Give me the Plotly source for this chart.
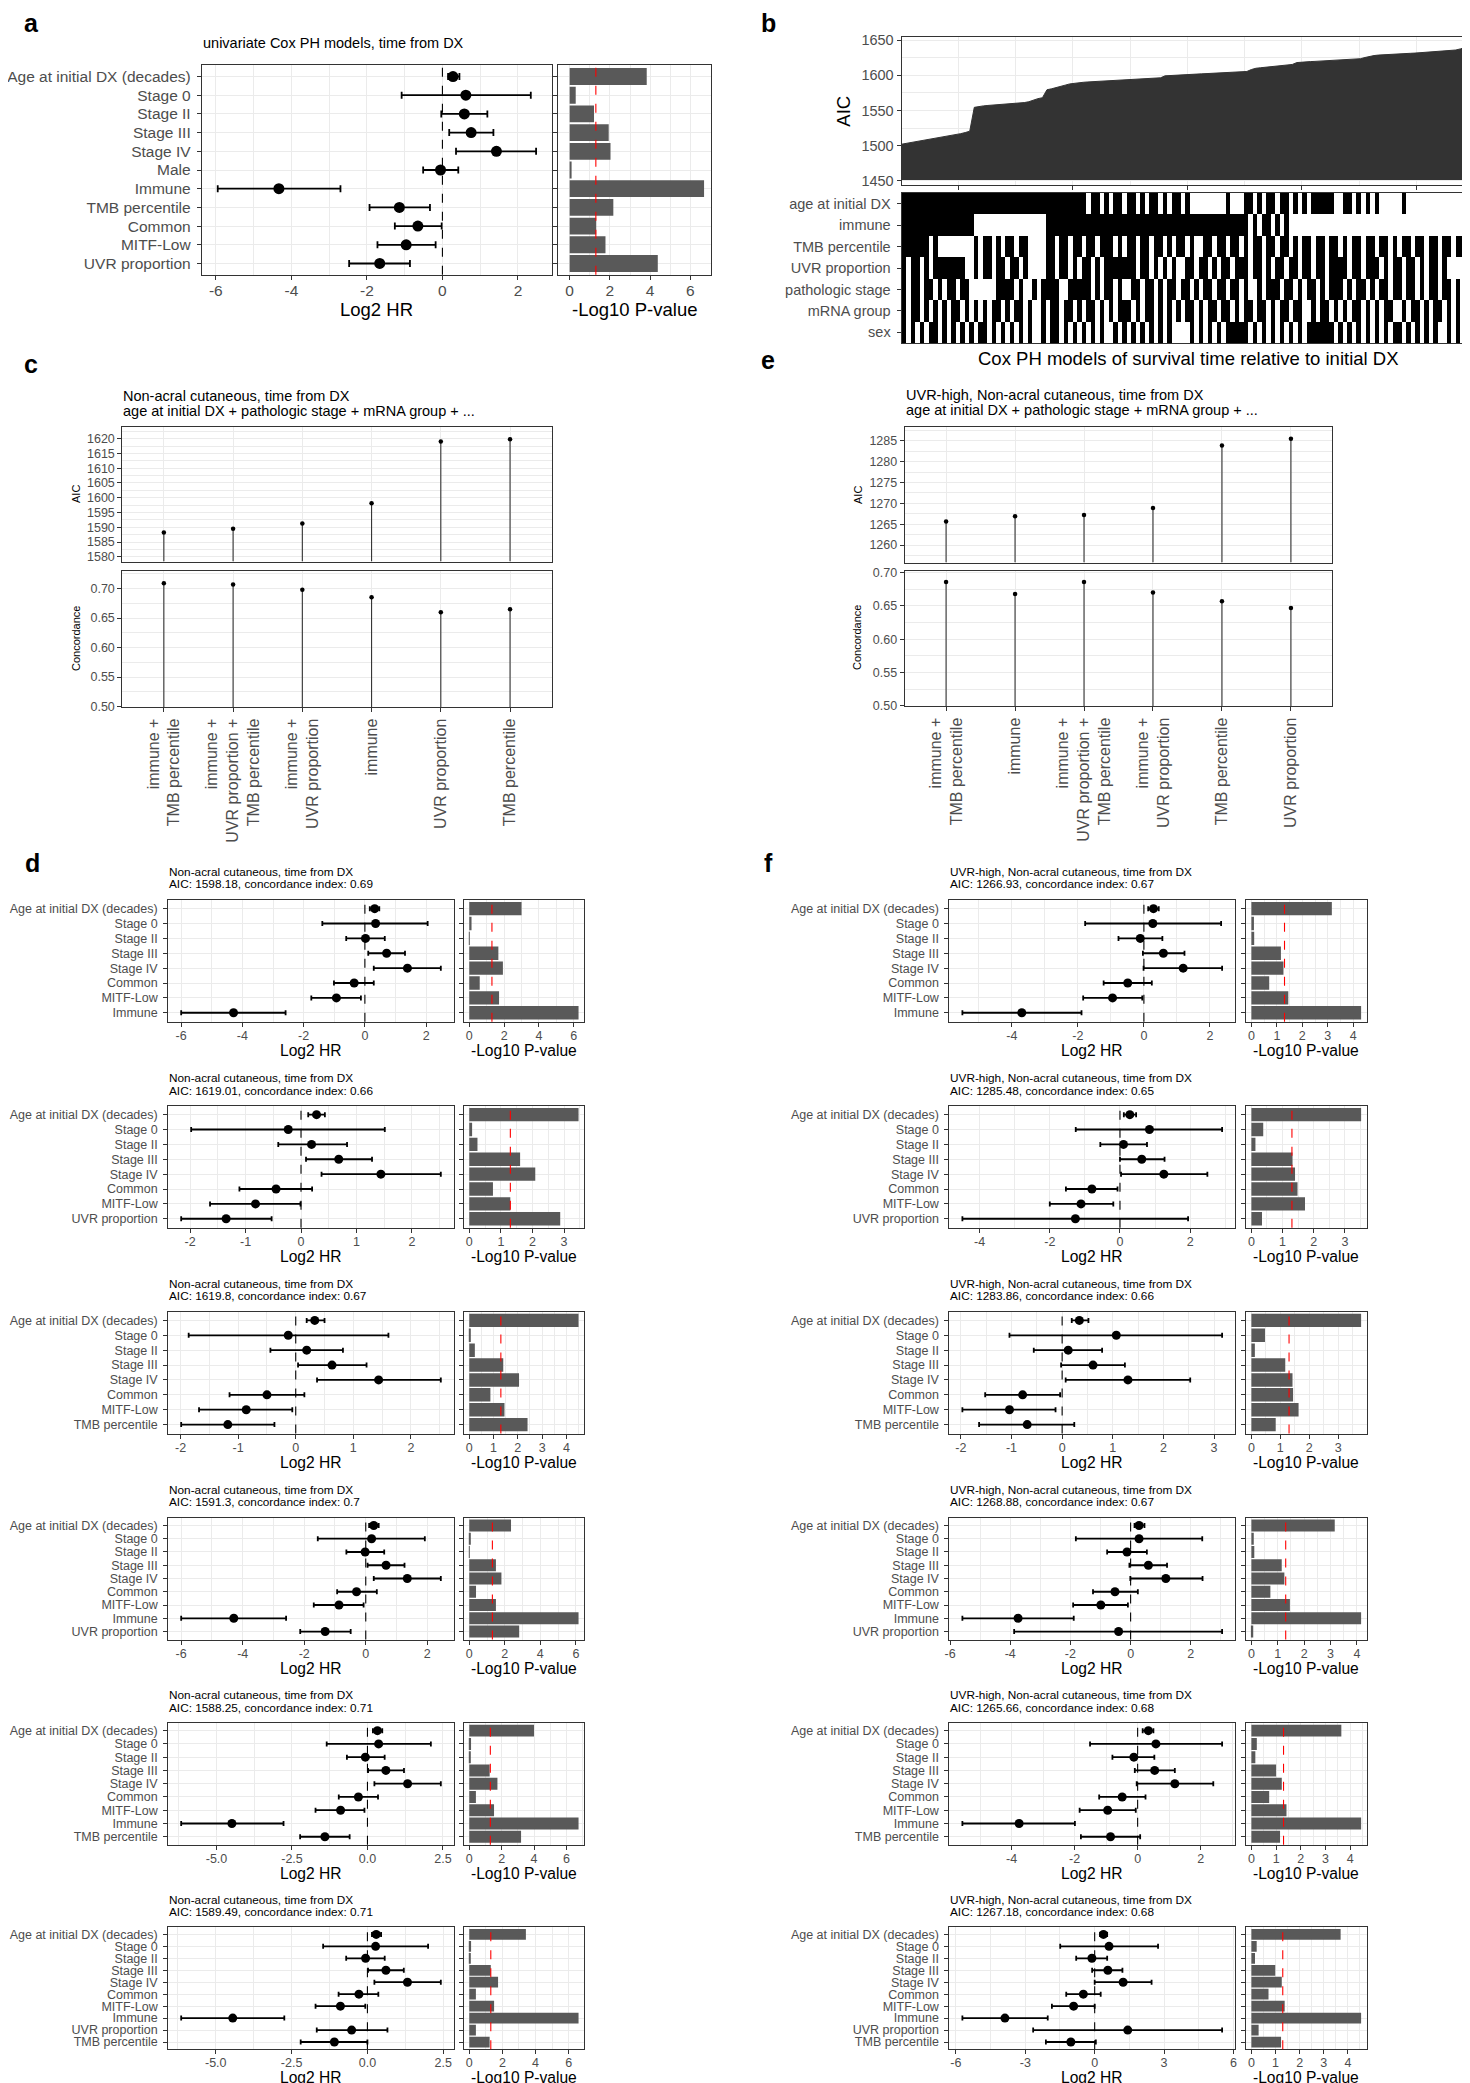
import numpy as np
import plotly.graph_objects as go

W, H = 1470, 2083
FONT = "Liberation Sans, Arial, Helvetica, sans-serif"
GRID = "#EBEBEB"
FRAME = "#333333"
TICKTXT = "#4D4D4D"
BARFILL = "#595959"
P_CUT = -np.log10(0.05)

# ---------------- a: univariate Cox models ----------------
A_LABELS = ["Age at initial DX (decades)", "Stage 0", "Stage II", "Stage III", "Stage IV", "Male",
            "Immune", "TMB percentile", "Common", "MITF-Low", "UVR proportion"]
A_HR = [0.28, 0.62, 0.58, 0.76, 1.43, -0.05, -4.33, -1.14, -0.65, -0.96, -1.66]
A_LO = [0.15, -1.08, -0.03, 0.18, 0.36, -0.51, -5.95, -1.93, -1.26, -1.72, -2.47]
A_HI = [0.45, 2.34, 1.19, 1.35, 2.48, 0.42, -2.70, -0.33, -0.02, -0.18, -0.86]
A_P = [3.83, 0.30, 1.21, 1.94, 2.03, 0.05, 6.68, 2.17, 1.32, 1.78, 4.38]

# ---------------- b: all models sorted by AIC ----------------
AIC_SORTED = [
    1502.0, 1503.1, 1504.2, 1505.3, 1506.4, 1507.5, 1508.6, 1509.7, 1510.8, 1511.9, 1513.0, 1514.3, 1515.6, 1517.0, 1518.6, 1520.5,
    1554.5, 1555.8, 1556.6, 1557.2, 1557.7, 1558.1, 1558.5, 1558.9, 1559.3, 1559.8, 1560.4, 1561.3, 1562.5, 1564.8, 1566.9, 1568.2,
    1579.6, 1580.9, 1582.3, 1584.0, 1586.1, 1587.9, 1589.0,
    1589.6, 1590.2, 1590.7, 1591.1, 1591.5, 1591.9, 1592.2, 1592.5, 1592.8, 1593.1, 1593.4, 1593.7, 1594.0, 1594.3, 1594.6, 1594.9, 1595.3, 1595.8, 1596.6,
    1599.4, 1599.9, 1600.3, 1600.7, 1601.0, 1601.3, 1601.6, 1601.9, 1602.2, 1602.5, 1602.8, 1603.1, 1603.4, 1603.7, 1604.0, 1604.3, 1604.6, 1605.0, 1605.6,
    1608.4, 1610.2, 1610.9, 1611.5, 1612.0, 1612.5, 1613.0, 1613.5, 1614.2, 1615.6,
    1618.3, 1619.0, 1619.4, 1619.7, 1620.0, 1620.3, 1620.6, 1620.9, 1621.2, 1621.5, 1621.8, 1622.1, 1622.5, 1623.0, 1623.8,
    1625.5, 1627.2, 1628.3, 1629.0, 1629.5, 1629.9, 1630.3, 1630.6, 1630.9, 1631.2, 1631.5, 1631.8, 1632.2, 1632.6,
    1633.0, 1633.4, 1633.7, 1634.0, 1634.4, 1635.0, 1636.2, 1637.8, 1639.5, 1641.3, 1643.5,
]
AIC_FLOOR = 1451

HEAT_LABELS = ["age at initial DX", "immune", "TMB percentile", "UVR proportion",
               "pathologic stage", "mRNA group", "sex"]
HM_AGE = ("1111111111" "1111111111" "1111111111" "1111111111" "1011010110" "1101011010" "1101000000"
          "0010001101" "0110110101" "0111110011" "0101010000" "0100000000" "0000000")
HM_IMMUNE = ("1111111111" "1111110000" "0000000000" "0011111111" "1111111111" "1111111111" "1111111111"
             "1111111010" "1101010000" "0000000000" "0000000000" "0000000000" "0000000")
HM_TMB = ("1111110100" "0000001011" "0101101100" "0011011011" "0110111010" "1101101101" "0110100110"
          "1101101011" "0110110101" "1011011010" "1101101101" "0110110110" "1101110")
HM_UVR = ("1011010111" "1111001011" "0110110100" "0011011010" "1101011111" "1101101010" "1001101101"
          "0110111011" "0101101101" "1011011110" "1101110101" "1011010110" "1000000")
HM_STAGE = ("1011011010" "1101100000" "0111101001" "0111100111" "1101011010" "0110110101" "1011010110"
            "1101101001" "0111011010" "1101011101" "0110101101" "1011010110" "1101011")
HM_MRNA = ("1011010101" "0110101010" "1101011010" "0101101101" "0110101011" "1010110101" "0101101011"
           "0110101101" "1010110110" "0101101010" "1101010110" "0101101011" "0101011")
HM_SEX = ("1010101101" "0101010110" "1010101010" "0101101010" "1010100101" "0101010101" "0000101010"
          "1011111010" "1010101010" "1111110101" "0101010101" "1010101010" "0101010")

# ---------------- c / e: model comparison ----------------
C_MODELS = ["immune +\nTMB percentile", "immune +\nUVR proportion +\nTMB percentile", "immune +\nUVR proportion",
            "immune", "UVR proportion", "TMB percentile"]
C_AIC = [1588.25, 1589.49, 1591.3, 1598.18, 1619.01, 1619.8]
C_CONC = [0.709, 0.707, 0.698, 0.685, 0.660, 0.665]

E_MODELS = ["immune +\nTMB percentile", "immune", "immune +\nUVR proportion +\nTMB percentile",
            "immune +\nUVR proportion", "TMB percentile", "UVR proportion"]
E_AIC = [1265.66, 1266.93, 1267.18, 1268.88, 1283.86, 1285.48]
E_CONC = [0.686, 0.668, 0.686, 0.670, 0.657, 0.647]

# ---------------- d / f: multivariate models ----------------
BASE = ["Age at initial DX (decades)", "Stage 0", "Stage II", "Stage III", "Stage IV", "Common", "MITF-Low"]
L_IMM = BASE + ["Immune"]
L_UVR = BASE + ["UVR proportion"]
L_TMB = BASE + ["TMB percentile"]
L_IMM_UVR = BASE + ["Immune", "UVR proportion"]
L_IMM_TMB = BASE + ["Immune", "TMB percentile"]
L_ALL = BASE + ["Immune", "UVR proportion", "TMB percentile"]

D1_HR = [0.32, 0.35, 0.02, 0.71, 1.39, -0.35, -0.93, -4.29]
D1_LO = [0.16, -1.39, -0.61, 0.11, 0.29, -1.01, -1.75, -6.00]
D1_HI = [0.47, 2.05, 0.65, 1.31, 2.48, 0.29, -0.13, -2.59]
D1_P = [3.0, 0.13, 0.01, 1.67, 1.93, 0.60, 1.71, 6.27]

D2_HR = [0.28, -0.23, 0.19, 0.68, 1.44, -0.45, -0.82, -1.35]
D2_LO = [0.13, -1.98, -0.41, 0.09, 0.37, -1.11, -1.64, -2.16]
D2_HI = [0.43, 1.51, 0.83, 1.28, 2.52, 0.20, -0.01, -0.53]
D2_P = [3.46, 0.09, 0.26, 1.61, 2.09, 0.75, 1.30, 2.88]

D3_HR = [0.33, -0.13, 0.19, 0.63, 1.44, -0.50, -0.86, -1.18]
D3_LO = [0.19, -1.86, -0.44, 0.04, 0.37, -1.15, -1.68, -1.99]
D3_HI = [0.50, 1.61, 0.82, 1.23, 2.52, 0.15, -0.06, -0.37]
D3_P = [4.50, 0.05, 0.23, 1.40, 2.05, 0.87, 1.45, 2.40]

D4_HR = [0.26, 0.19, -0.02, 0.66, 1.35, -0.30, -0.87, -4.29, -1.32]
D4_LO = [0.11, -1.56, -0.63, 0.06, 0.26, -0.93, -1.69, -6.00, -2.13]
D4_HI = [0.42, 1.92, 0.60, 1.26, 2.44, 0.36, -0.07, -2.59, -0.49]
D4_P = [2.35, 0.04, 0.01, 1.50, 1.81, 0.38, 1.50, 6.15, 2.81]

D5_HR = [0.33, 0.37, -0.07, 0.61, 1.33, -0.30, -0.89, -4.49, -1.41]
D5_LO = [0.18, -1.35, -0.68, 0.02, 0.23, -0.95, -1.72, -6.17, -2.23]
D5_HI = [0.49, 2.10, 0.57, 1.21, 2.43, 0.35, -0.10, -2.78, -0.59]
D5_P = [4.00, 0.11, 0.07, 1.26, 1.74, 0.41, 1.53, 6.75, 3.20]

D6_HR = [0.29, 0.27, -0.06, 0.61, 1.32, -0.28, -0.89, -4.44, -0.52, -1.09]
D6_LO = [0.15, -1.46, -0.70, 0.02, 0.23, -0.95, -1.71, -6.14, -1.67, -2.20]
D6_HI = [0.45, 2.00, 0.57, 1.20, 2.42, 0.36, -0.07, -2.74, 0.66, 0.00]
D6_P = [3.42, 0.11, 0.07, 1.30, 1.74, 0.40, 1.50, 6.60, 0.40, 1.23]

F1_HR = [0.29, 0.27, -0.11, 0.59, 1.19, -0.49, -0.95, -3.70]
F1_LO = [0.13, -1.78, -0.77, -0.03, -0.01, -1.22, -1.84, -5.50]
F1_HI = [0.45, 2.34, 0.56, 1.23, 2.37, 0.24, -0.05, -1.89]
F1_P = [3.16, 0.10, 0.11, 1.16, 1.26, 0.70, 1.45, 4.31]

F2_HR = [0.28, 0.84, 0.10, 0.62, 1.25, -0.80, -1.11, -1.27]
F2_LO = [0.11, -1.26, -0.56, 0.00, 0.03, -1.54, -2.00, -4.49]
F2_HI = [0.46, 2.91, 0.77, 1.27, 2.49, -0.07, -0.19, 1.94]
F2_P = [3.52, 0.38, 0.13, 1.32, 1.40, 1.48, 1.72, 0.34]

F3_HR = [0.34, 1.07, 0.12, 0.61, 1.30, -0.78, -1.04, -0.69]
F3_LO = [0.19, -1.04, -0.56, -0.02, 0.07, -1.52, -1.97, -1.64]
F3_HI = [0.52, 3.16, 0.79, 1.24, 2.53, -0.04, -0.13, 0.24]
F3_P = [3.79, 0.47, 0.12, 1.17, 1.42, 1.44, 1.63, 0.84]

F4_HR = [0.28, 0.28, -0.12, 0.59, 1.17, -0.52, -0.99, -3.74, -0.40]
F4_LO = [0.13, -1.82, -0.78, -0.04, -0.01, -1.25, -1.91, -5.59, -3.87]
F4_HI = [0.46, 2.38, 0.54, 1.21, 2.39, 0.24, -0.09, -1.89, 3.04]
F4_P = [3.16, 0.09, 0.11, 1.15, 1.25, 0.72, 1.46, 4.16, 0.07]

F5_HR = [0.34, 0.58, -0.12, 0.54, 1.18, -0.49, -0.95, -3.76, -0.86]
F5_LO = [0.16, -1.51, -0.80, -0.09, -0.03, -1.22, -1.84, -5.56, -1.80]
F5_HI = [0.50, 2.68, 0.53, 1.18, 2.40, 0.25, -0.06, -1.99, 0.08]
F5_P = [3.64, 0.22, 0.16, 1.00, 1.23, 0.72, 1.42, 4.44, 1.16]

F6_HR = [0.38, 0.62, -0.12, 0.57, 1.23, -0.49, -0.91, -3.88, 1.43, -1.03]
F6_LO = [0.23, -1.49, -0.80, -0.11, 0.00, -1.23, -1.85, -5.72, -2.66, -2.11]
F6_HI = [0.54, 2.74, 0.54, 1.20, 2.46, 0.26, 0.00, -2.03, 5.51, 0.05]
F6_P = [3.70, 0.22, 0.15, 0.99, 1.26, 0.71, 1.38, 4.55, 0.30, 1.23]

D_AIC = ["1598.18", "1619.01", "1619.8", "1591.3", "1588.25", "1589.49"]
D_CI = ["0.69", "0.66", "0.67", "0.7", "0.71", "0.71"]
F_AIC = ["1266.93", "1285.48", "1283.86", "1268.88", "1265.66", "1267.18"]
F_CI = ["0.67", "0.65", "0.66", "0.67", "0.68", "0.68"]

# ---------------- helpers ----------------
layout = dict(width=W, height=H, margin=dict(l=0, r=0, t=0, b=0), template="none",
              paper_bgcolor="white", plot_bgcolor="white", showlegend=False,
              font=dict(family=FONT, color="black"))
traces, notes, shapes = [], [], []
n_axes = [0]


def note(x, y, text, size, xanchor="left", angle=0):
    notes.append(dict(x=x / W, y=1 - y / H, xref="paper", yref="paper", text=text, showarrow=False,
                      xanchor=xanchor, yanchor="middle", textangle=angle, borderpad=0,
                      font=dict(size=size, color="black", family=FONT)))


def axis_style(size, **kw):
    d = dict(showline=True, linecolor=FRAME, linewidth=1, mirror=True, ticks="outside", ticklen=4,
             tickwidth=1, tickcolor=FRAME, showgrid=True, gridcolor=GRID, gridwidth=1.1, zeroline=False,
             tickfont=dict(size=size, color=TICKTXT, family=FONT), fixedrange=True)
    d.update(kw)
    return d


def minor(step, t0=0):
    return dict(dtick=step, tick0=t0, showgrid=True, gridcolor=GRID, gridwidth=0.55)


def add_axes(x0, x1, y0, y1, xo, yo):
    n_axes[0] += 1
    s = "" if n_axes[0] == 1 else str(n_axes[0])
    layout["xaxis" + s] = dict(domain=[x0 / W, x1 / W], anchor="y" + s, **xo)
    layout["yaxis" + s] = dict(domain=[1 - y1 / H, 1 - y0 / H], anchor="x" + s, **yo)
    return "x" + s, "y" + s


def tick_list(lo, hi, step):
    start = np.ceil(lo / step - 1e-9) * step
    return [round(float(v), 6) for v in np.arange(start, hi + 1e-9, step)]


def fmt_tick(v, step):
    if abs(v) < 1e-9:
        v = 0.0
    return f"{v:.1f}" if step == 2.5 else f"{v:g}"


def forest(labels, hr, lo, hi, pv, top, bot, fx, bx, step, bstep, big=False, brange=None):
    n = len(labels)
    ts, ms, cap, ttl, toff = (15.5, 11, 3.5, 18.5, 35.3) if big else (12.5, 9, 2.5, 15.6, 28.5)
    span = max(hi) - min(lo)
    xr = [min(lo) - 0.05 * span, max(hi) + 0.05 * span]
    tv = tick_list(xr[0], xr[1], step)
    yr = [n - 0.4, -0.6]
    ycat = dict(type="category", categoryorder="array", categoryarray=labels, range=yr,
                tickmode="array", tickvals=labels, ticktext=labels)
    xo = axis_style(ts, range=xr, tickmode="array", tickvals=tv, ticklabelstandoff=-2,
                    ticktext=[fmt_tick(v, step) for v in tv], minor=minor(step / 2))
    yo = axis_style(ts, ticklabelstandoff=3, **ycat)
    xa, ya = add_axes(fx[0], fx[1], top, bot, xo, yo)
    traces.append(go.Scatter(
        x=hr, y=labels, xaxis=xa, yaxis=ya, mode="markers", hoverinfo="skip",
        marker=dict(color="black", size=ms),
        error_x=dict(type="data", symmetric=False,
                     array=[h - p for h, p in zip(hi, hr)],
                     arrayminus=[p - l for p, l in zip(hr, lo)],
                     color="black", thickness=1.8, width=cap)))
    shapes.append(dict(type="line", xref=xa, yref=ya + " domain", x0=0, x1=0, y0=0, y1=1,
                       line=dict(color="black", width=1.1, dash="dash")))
    m = max(pv)
    br = brange or [-0.05 * m, 1.05 * m]
    xo = axis_style(ts, range=br, tick0=0, dtick=bstep, ticklabelstandoff=-2, minor=minor(bstep / 2))
    yo = axis_style(ts, showticklabels=False, **ycat)
    xb, yb = add_axes(bx[0], bx[1], top, bot, xo, yo)
    traces.append(go.Bar(x=pv, y=labels, orientation="h", width=0.9, xaxis=xb, yaxis=yb,
                         marker=dict(color=BARFILL, line=dict(width=0)), hoverinfo="skip"))
    shapes.append(dict(type="line", xref=xb, yref=yb + " domain", x0=P_CUT, x1=P_CUT, y0=0, y1=1,
                       line=dict(color="red", width=1.1, dash="dash")))
    note((fx[0] + fx[1]) / 2, bot + toff, "Log2 HR", ttl, xanchor="center")
    note((bx[0] + bx[1]) / 2, bot + toff, "-Log10 P-value", ttl, xanchor="center")


def lollipop(models, aic, conc, x0, x1, abox, cbox, arange, crange):
    cats = [m.replace("\n", "<br>") for m in models]
    xcat = dict(type="category", categoryorder="array", categoryarray=cats,
                range=[-0.6, len(cats) - 0.4], tickmode="array", tickvals=cats, ticktext=cats)
    xo = axis_style(16, showticklabels=False, ticks="", **xcat)
    yo = axis_style(12.5, range=arange, tick0=0, dtick=5, minor=minor(2.5))
    xa, ya = add_axes(x0, x1, abox[0], abox[1], xo, yo)
    traces.append(go.Scatter(
        x=cats, y=aic, xaxis=xa, yaxis=ya, mode="markers", hoverinfo="skip",
        marker=dict(color="black", size=4.5),
        error_y=dict(type="data", symmetric=False, array=[0] * len(aic),
                     arrayminus=[v - arange[0] for v in aic], width=0, thickness=1.1, color=FRAME)))
    xo = axis_style(16, tickangle=-90, **xcat)
    yo = axis_style(12.5, range=crange, tick0=0.5, dtick=0.05, tickformat=".2f", minor=minor(0.025, 0.5))
    xa, ya = add_axes(x0, x1, cbox[0], cbox[1], xo, yo)
    traces.append(go.Scatter(
        x=cats, y=conc, xaxis=xa, yaxis=ya, mode="markers", hoverinfo="skip",
        marker=dict(color="black", size=4.5),
        error_y=dict(type="data", symmetric=False, array=[0] * len(conc),
                     arrayminus=[v - crange[0] for v in conc], width=0, thickness=1.1, color=FRAME)))


# ---------------- panel a ----------------
note(23, 15, "<b>a</b>", 25, xanchor="center")
note(193.8, 35, "univariate Cox PH models, time from DX", 14.5)
forest(A_LABELS, A_HR, A_LO, A_HI, A_P, 57.3, 266.7, (193.8, 544), (549.6, 702.5), 2, 2,
       big=True, brange=[-0.6, 7.0])

# ---------------- panel b ----------------
note(760, 15, "<b>b</b>", 25, xanchor="center")
ranks = list(range(1, len(AIC_SORTED) + 1))
xo = axis_style(14.5, range=[1, len(AIC_SORTED)], tick0=13.5, dtick=25.2, showticklabels=False,
                minor=minor(12.6, 13.5))
yo = axis_style(14.5, range=[1444.3, 1654.3], tick0=1450, dtick=50, minor=minor(25, 1450))
xa, ya = add_axes(893.6, 1466, 29.3, 176.7, xo, yo)
traces.append(go.Scatter(x=ranks, y=[AIC_FLOOR] * len(ranks), xaxis=xa, yaxis=ya, mode="lines",
                         line=dict(width=0, color=FRAME), hoverinfo="skip"))
traces.append(go.Scatter(x=ranks, y=AIC_SORTED, xaxis=xa, yaxis=ya, mode="lines", fill="tonexty",
                         fillcolor=FRAME, line=dict(width=1, color=FRAME), hoverinfo="skip"))
note(834.7, 103, "AIC", 18.5, xanchor="center", angle=-90)

rows = [HM_AGE, HM_IMMUNE, HM_TMB, HM_UVR, HM_STAGE, HM_MRNA, HM_SEX]
ncol = max(len(r) for r in rows)
z = [[int(ch) for ch in r.ljust(ncol, "0")] for r in rows]
xo = axis_style(14.5, range=[0.5, ncol + 0.5], showticklabels=False, ticks="", showgrid=False)
yo = axis_style(14.5, type="category", categoryorder="array", categoryarray=HEAT_LABELS,
                range=[6.5, -0.5], tickmode="array", tickvals=HEAT_LABELS, ticktext=HEAT_LABELS,
                showgrid=False, ticklabelstandoff=3)
xa, ya = add_axes(893.6, 1466, 185, 335, xo, yo)
traces.append(go.Heatmap(z=z, x=list(range(1, ncol + 1)), y=HEAT_LABELS, xaxis=xa, yaxis=ya,
                         colorscale=[[0, "white"], [1, "black"]], zmin=0, zmax=1, showscale=False,
                         hoverinfo="skip"))
note(1180, 350, "Cox PH models of survival time relative to initial DX", 18.5, xanchor="center")

# ---------------- panel c ----------------
note(23, 356, "<b>c</b>", 25, xanchor="center")
note(114.3, 388, "Non-acral cutaneous, time from DX", 14.5)
note(114.3, 403, "age at initial DX + pathologic stage + mRNA group + ...", 14.5)
lollipop(C_MODELS, C_AIC, C_CONC, 114.3, 543.6, (419.1, 553.6), (562.8, 699.2),
         [1578.4, 1623.9], [0.499, 0.730])
note(68, 486, "AIC", 11, xanchor="center", angle=-90)
note(68, 631, "Concordance", 11, xanchor="center", angle=-90)

# ---------------- panel e ----------------
note(760, 352, "<b>e</b>", 25, xanchor="center")
note(896.7, 387, "UVR-high, Non-acral cutaneous, time from DX", 14.5)
note(896.7, 402, "age at initial DX + pathologic stage + mRNA group + ...", 14.5)
lollipop(E_MODELS, E_AIC, E_CONC, 896.7, 1324.3, (419.1, 554.5), (562.8, 698.3),
         [1255.8, 1288.3], [0.4995, 0.7027])
note(850, 487, "AIC", 11, xanchor="center", angle=-90)
note(849, 630, "Concordance", 11, xanchor="center", angle=-90)

# ---------------- panels d and f ----------------
TOPS = [891.7, 1097.7, 1303.5, 1509.5, 1714.7, 1919.2]
BOX_H = 122

note(24, 855, "<b>d</b>", 25, xanchor="center")
d_sets = [(L_IMM, D1_HR, D1_LO, D1_HI, D1_P, 2, 2),
          (L_UVR, D2_HR, D2_LO, D2_HI, D2_P, 1, 1),
          (L_TMB, D3_HR, D3_LO, D3_HI, D3_P, 1, 1),
          (L_IMM_UVR, D4_HR, D4_LO, D4_HI, D4_P, 2, 2),
          (L_IMM_TMB, D5_HR, D5_LO, D5_HI, D5_P, 2.5, 2),
          (L_ALL, D6_HR, D6_LO, D6_HI, D6_P, 2.5, 2)]
for i, (lab, hr, lo, hi, pv, st, bst) in enumerate(d_sets):
    top = TOPS[i]
    note(160.2, top - 27.5, "Non-acral cutaneous, time from DX", 11.8)
    note(160.2, top - 15.2, f"AIC: {D_AIC[i]}, concordance index: {D_CI[i]}", 11.8)
    forest(lab, hr, lo, hi, pv, top, top + BOX_H, (160.2, 445.8), (455.8, 576), st, bst)

note(760, 855, "<b>f</b>", 25, xanchor="center")
f_sets = [(L_IMM, F1_HR, F1_LO, F1_HI, F1_P, 2, 1),
          (L_UVR, F2_HR, F2_LO, F2_HI, F2_P, 2, 1),
          (L_TMB, F3_HR, F3_LO, F3_HI, F3_P, 1, 1),
          (L_IMM_UVR, F4_HR, F4_LO, F4_HI, F4_P, 2, 1),
          (L_IMM_TMB, F5_HR, F5_LO, F5_HI, F5_P, 2, 1),
          (L_ALL, F6_HR, F6_LO, F6_HI, F6_P, 3, 1)]
for i, (lab, hr, lo, hi, pv, st, bst) in enumerate(f_sets):
    top = TOPS[i]
    note(941.4, top - 27.5, "UVR-high, Non-acral cutaneous, time from DX", 11.8)
    note(941.4, top - 15.2, f"AIC: {F_AIC[i]}, concordance index: {F_CI[i]}", 11.8)
    forest(lab, hr, lo, hi, pv, top, top + BOX_H, (941.4, 1227.1), (1237.9, 1358.6), st, bst)

layout["annotations"] = notes
layout["shapes"] = shapes
fig = go.Figure(data=traces, layout=layout)
fig.write_html("out.html")
